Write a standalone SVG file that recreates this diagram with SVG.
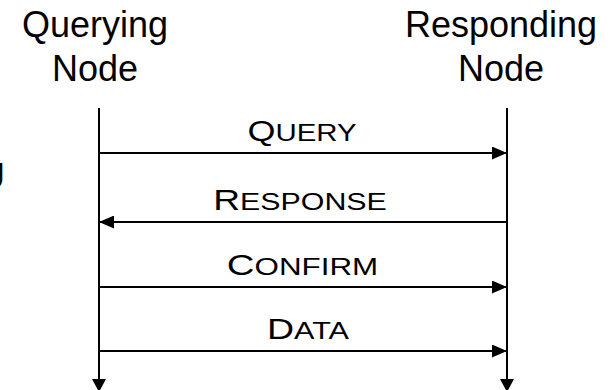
<svg xmlns="http://www.w3.org/2000/svg" width="611" height="390" viewBox="0 0 611 390">
  <defs>
    <marker id="head" viewBox="0 0 15 13" refX="15" refY="6.5" markerWidth="15" markerHeight="13" markerUnits="userSpaceOnUse" orient="auto">
      <polygon points="0,0 15,6.5 0,13" fill="#000"/>
    </marker>
    <marker id="down" viewBox="0 0 13 14" refX="13" refY="7" markerWidth="13" markerHeight="14" markerUnits="userSpaceOnUse" orient="auto">
      <polygon points="0,0 13,7 0,14" fill="#000"/>
    </marker>
    <style>
      .title { font-family: "Liberation Sans", Arial, sans-serif; font-size: 36px; fill: #000; text-anchor: middle; }
      .msg { font-family: "Liberation Sans", Arial, sans-serif; font-size: 24.5px; fill: #000; text-anchor: middle; }
      .msg .cap { font-size: 30px; }
      .life { stroke: #000; stroke-width: 2; fill: none; marker-end: url(#down); }
      .arrow { stroke: #000; stroke-width: 2.2; fill: none; marker-end: url(#head); }
    </style>
  </defs>
  <rect width="611" height="390" fill="#fff"/>

  <!-- partial glyph at the left edge -->
  <text class="title" x="5" y="189" style="text-anchor:end">U</text>

  <g id="querying-node">
    <text class="title" x="95" y="37">Querying</text>
    <text class="title" x="95" y="81">Node</text>
  </g>

  <g id="responding-node">
    <text class="title" x="501" y="37">Responding</text>
    <text class="title" x="501" y="81">Node</text>
  </g>

  <g id="connectors">
    <!-- lifelines -->
    <line class="life" x1="99" y1="108" x2="99" y2="392"/>
    <line class="life" x1="507" y1="108" x2="507" y2="392"/>
    <!-- messages -->
    <line class="arrow" x1="99" y1="153" x2="507" y2="153"/>
    <line class="arrow" x1="507" y1="222" x2="99" y2="222"/>
    <line class="arrow" x1="99" y1="287" x2="507" y2="287"/>
    <line class="arrow" x1="99" y1="351" x2="507" y2="351"/>
  </g>

  <g id="labels">
    <text class="msg" transform="translate(302,141) scale(1.2,1)"><tspan class="cap">Q</tspan>UERY</text>
    <text class="msg" transform="translate(300,210) scale(1.24,1)"><tspan class="cap">R</tspan>ESPONSE</text>
    <text class="msg" transform="translate(302.5,275) scale(1.28,1)"><tspan class="cap">C</tspan>ONFIRM</text>
    <text class="msg" transform="translate(308,339) scale(1.25,1)"><tspan class="cap">D</tspan>ATA</text>
  </g>
</svg>
